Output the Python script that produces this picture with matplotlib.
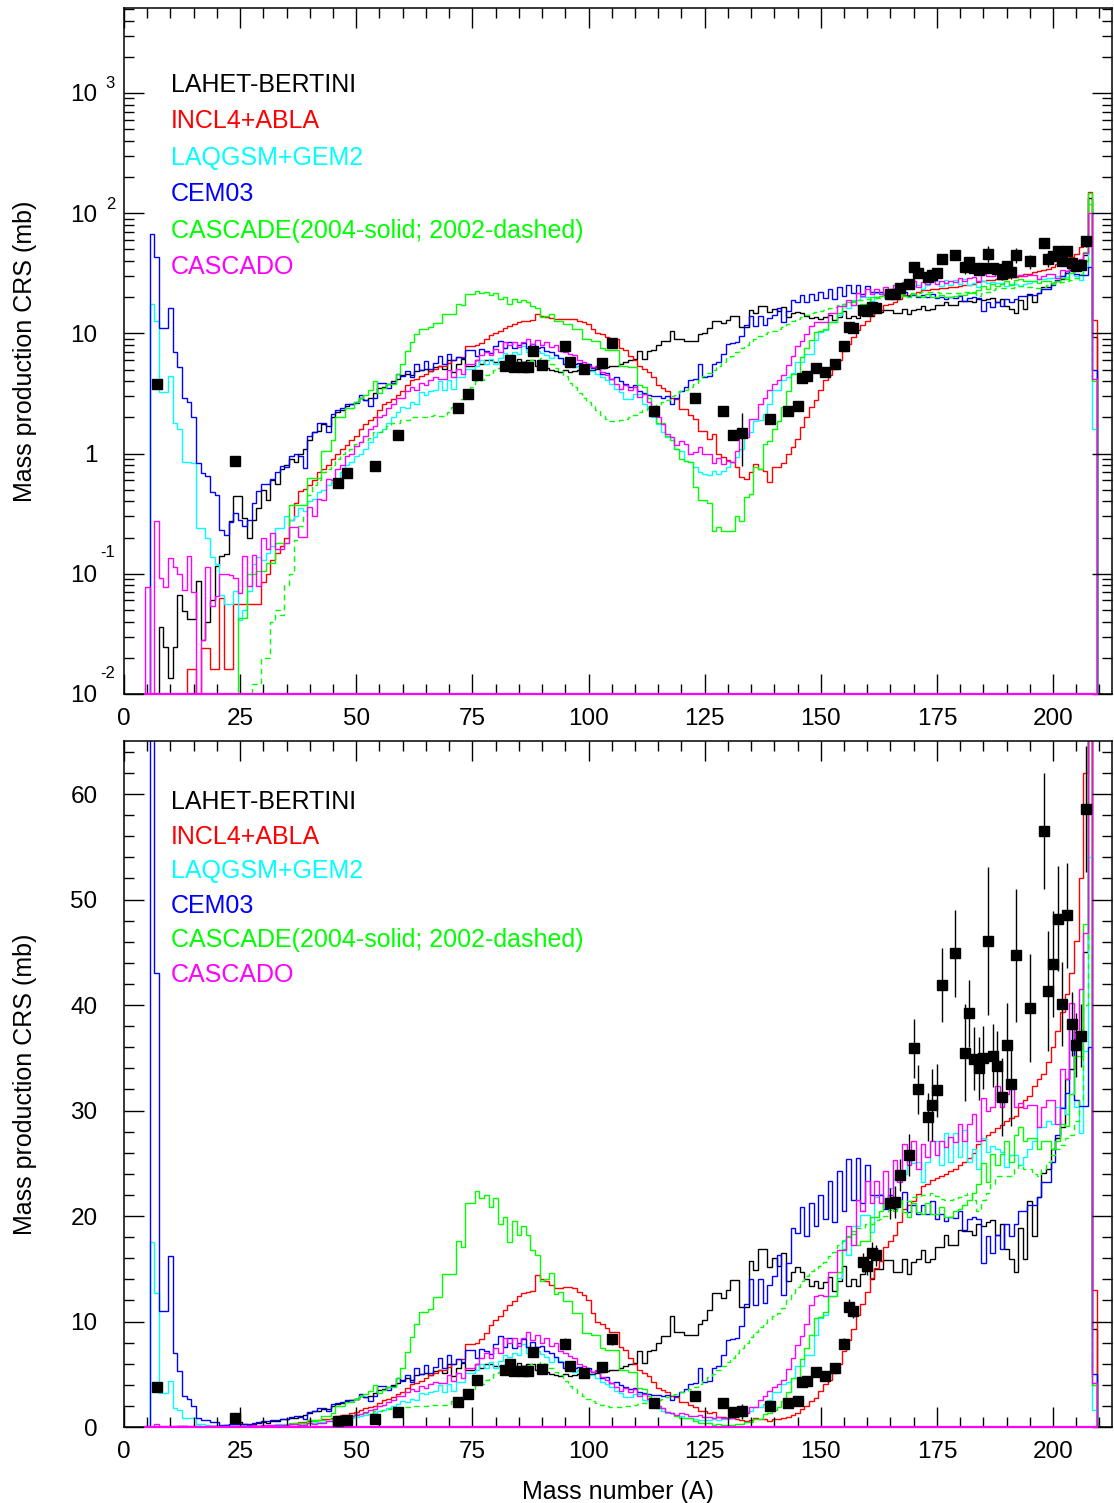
import numpy as np
import matplotlib
matplotlib.use('Agg')
import matplotlib.pyplot as plt
import matplotlib.transforms as mtransforms
from matplotlib.ticker import MultipleLocator, LogLocator, NullFormatter, FixedLocator

plt.rcParams['font.family'] = ['Liberation Sans', 'DejaVu Sans']

# Mass numbers A = 5 ... 210, one bin per A (edges at A-0.5, A+0.5)
masas = np.arange(5, 211)
bordes = np.arange(4.5, 211.5, 1.0)

# Mass production cross sections (mb), one value per A
lahet = [
    0, 0, 0, 0.036, 0.0245, 0.0137, 0.0245, 0.066, 0.049, 0.042,        # 5-14
    0.042, 0.087, 0.028, 0.04, 0.06, 0.117, 0.141, 0.145, 0.277, 0.447,  # 15-24
    0.44, 0.29, 0.197, 0.28, 0.35, 0.5, 0.41, 0.6, 0.56, 0.75,          # 25-34
    0.8, 0.9, 0.85, 1.0, 1.1, 1.3, 1.5, 1.55, 1.75, 1.7,                # 35-44
    2.0, 2.2, 2.3, 2.5, 2.6, 2.7, 2.9, 2.8, 2.9, 3.2,                   # 45-54
    3.5, 3.6, 3.8, 4.0, 4.2, 4.5, 4.6, 4.5, 4.9, 5.0,                   # 55-64
    5.1, 4.9, 5.3, 5.4, 5.1, 6.0, 4.8, 5.6, 6.1, 5.4,                   # 65-74
    5.4, 6.0, 5.6, 6.0, 6.0, 5.8, 5.8, 5.6, 5.4, 5.6,                   # 75-84
    6.1, 5.8, 6.0, 6.0, 5.4, 5.4, 5.2, 5.0, 4.9, 4.8,                   # 85-94
    5.0, 4.8, 4.9, 5.0, 4.8, 5.0, 5.0, 5.1, 5.2, 5.3,                   # 95-104
    5.4, 5.4, 5.6, 5.8, 6.0, 6.1, 7.2, 6.1, 7.2, 7.3,                   # 105-114
    8.0, 8.6, 8.6, 10.5, 9.0, 9.0, 8.7, 8.7, 8.7, 9.8,                  # 115-124
    10.1, 11.1, 12.7, 12.7, 12.2, 13.0, 13.9, 13.9, 11.4, 11.4,         # 125-134
    15.7, 14.9, 16.9, 16.9, 15.2, 16.0, 15.3, 16.5, 13.8, 14.7,         # 135-144
    15.2, 14.7, 14.0, 13.4, 13.8, 13.2, 13.7, 14.2, 12.9, 13.8,         # 145-154
    15.3, 13.4, 14.0, 13.4, 14.5, 15.3, 14.0, 15.0, 15.0, 15.8,         # 155-164
    15.8, 14.7, 14.7, 15.9, 14.5, 15.6, 15.9, 16.8, 15.6, 15.9,         # 165-174
    17.1, 17.1, 18.2, 17.3, 17.3, 18.7, 18.6, 18.6, 18.2, 19.2,         # 175-184
    19.1, 19.4, 19.6, 18.2, 19.2, 16.9, 15.9, 14.7, 18.9, 15.9,         # 185-194
    21.4, 18.1, 21.8, 24.1, 24.5, 26.4, 27.4, 28.4, 33.0, 33.9,         # 195-204
    37.4, 37.4, 45.0, 133.0, 9.3, 0,                                    # 205-210
]

incl4 = [
    0, 0, 0, 0, 0, 0, 0, 0, 0, 0.016,                                   # 5-14
    0.016, 0, 0.024, 0.024, 0.016, 0.016, 0.063, 0.016, 0.016, 0.056,   # 15-24
    0.056, 0.056, 0.056, 0.056, 0.056, 0.085, 0.1, 0.13, 0.15, 0.17,    # 25-34
    0.2, 0.28, 0.39, 0.49, 0.51, 0.55, 0.6, 0.7, 0.75, 0.8,             # 35-44
    0.9, 1.0, 1.1, 1.17, 1.3, 1.4, 1.6, 1.77, 1.9, 2.0,                 # 45-54
    2.3, 2.6, 2.7, 2.87, 3.1, 3.3, 3.7, 4.1, 4.2, 4.4,                  # 55-64
    4.6, 4.9, 5.1, 5.4, 5.4, 5.7, 6.0, 6.4, 6.4, 7.9,                   # 65-74
    7.9, 8.0, 8.3, 8.9, 9.7, 10.1, 10.5, 11.1, 11.6, 11.9,              # 75-84
    12.4, 12.7, 12.8, 12.9, 14.4, 14.0, 13.8, 13.5, 13.2, 13.2,         # 85-94
    13.3, 13.3, 13.2, 12.8, 12.5, 12.0, 10.8, 10.0, 9.8, 9.4,           # 95-104
    9.0, 9.0, 7.6, 7.3, 6.5, 6.0, 5.4, 5.1, 4.8, 4.3,                   # 105-114
    3.7, 3.5, 3.3, 2.9, 2.86, 2.35, 2.35, 2.1, 1.94, 1.55,              # 115-124
    1.55, 1.32, 1.46, 0.99, 0.94, 0.885, 0.85, 0.77, 0.635, 0.615,      # 125-134
    0.70, 0.82, 0.745, 0.72, 0.58, 0.77, 0.77, 0.83, 0.99, 1.13,        # 135-144
    1.32, 1.66, 2.0, 2.43, 2.77, 3.39, 4.06, 4.47, 5.08, 5.96,          # 145-154
    7.2, 8.2, 9.3, 10.6, 11.7, 12.8, 14.1, 15.1, 15.7, 17.1,            # 155-164
    17.6, 18.2, 19.4, 20.7, 21.0, 21.4, 22.1, 22.8, 23.0, 23.4,         # 165-174
    23.6, 23.8, 24.0, 24.3, 24.5, 24.8, 25.1, 25.5, 26.0, 26.8,         # 175-184
    27.2, 27.7, 28.0, 28.3, 28.6, 29.0, 29.3, 29.5, 30.3, 31.0,         # 185-194
    31.4, 32.3, 33.0, 33.5, 34.6, 36.0, 37.5, 39.3, 41.0, 43.0,         # 195-204
    46.1, 52.0, 62.0, 150.0, 13.0, 0,                                   # 205-210
]

laqgsm = [
    0, 17.5, 12.7, 3.25, 3.25, 4.4, 1.8, 1.6, 0.85, 0.85,               # 5-14
    0.83, 0.24, 0.24, 0.2, 0.137, 0.12, 0.066, 0.056, 0.056, 0.072,     # 15-24
    0.041, 0.05, 0.072, 0.12, 0.137, 0.13, 0.15, 0.17, 0.24, 0.24,      # 25-34
    0.3, 0.28, 0.3, 0.35, 0.33, 0.4, 0.42, 0.48, 0.5, 0.55,             # 35-44
    0.58, 0.62, 0.7, 0.8, 0.85, 0.95, 1.0, 1.1, 1.25, 1.37,             # 45-54
    1.5, 1.6, 1.8, 2.0, 2.2, 2.43, 2.4, 2.7, 2.6, 3.24,                 # 55-64
    3.1, 3.3, 3.4, 4.0, 3.35, 4.06, 3.46, 4.3, 4.3, 5.1,                # 65-74
    5.1, 5.4, 6.0, 5.6, 6.15, 5.6, 6.3, 6.85, 6.6, 7.0,                 # 75-84
    6.8, 7.9, 7.0, 7.0, 7.2, 6.9, 6.6, 6.2, 6.6, 6.3,                   # 85-94
    5.6, 5.6, 5.25, 5.4, 4.9, 4.9, 4.9, 4.6, 4.3, 4.06,                 # 95-104
    3.8, 3.46, 3.24, 2.86, 2.86, 3.14, 3.14, 2.6, 2.43, 2.0,            # 105-114
    1.77, 1.5, 1.37, 1.37, 1.09, 1.06, 0.87, 0.85, 0.77, 0.7,           # 115-124
    0.68, 0.66, 0.72, 0.68, 0.72, 0.77, 0.85, 0.93, 1.09, 1.46,         # 125-134
    1.5, 1.88, 1.9, 2.14, 2.6, 3.35, 3.35, 4.06, 4.3, 4.67,             # 135-144
    5.8, 5.8, 6.8, 6.8, 8.75, 10.3, 10.6, 12.4, 12.4, 14.1,             # 145-154
    17.7, 16.3, 19.1, 19.1, 20.1, 20.1, 18.5, 21.8, 22.1, 21.2,         # 155-164
    22.7, 23.5, 23.5, 24.0, 26.1, 25.0, 25.1, 23.2, 25.1, 27.1,         # 165-174
    27.1, 24.8, 27.9, 25.1, 27.9, 25.6, 28.2, 25.1, 26.4, 24.5,         # 175-184
    27.4, 26.1, 26.6, 26.4, 26.1, 24.6, 25.8, 25.8, 24.8, 25.6,         # 185-194
    26.4, 27.1, 28.4, 28.4, 29.0, 28.7, 30.3, 30.3, 29.7, 31.6,         # 195-204
    30.3, 27.9, 35.6, 54.0, 1.6, 0,                                     # 205-210
]

cem03 = [
    0, 67.0, 43.0, 11.0, 11.0, 16.2, 7.0, 5.3, 2.9, 2.7,                # 5-14
    2.0, 0.83, 0.69, 0.65, 0.48, 0.45, 0.23, 0.21, 0.27, 0.32,          # 15-24
    0.28, 0.25, 0.28, 0.39, 0.49, 0.56, 0.56, 0.62, 0.7, 0.79,          # 25-34
    0.77, 0.96, 1.0, 0.96, 0.76, 1.41, 1.5, 1.78, 1.78, 1.5,            # 35-44
    2.15, 2.3, 2.4, 2.6, 2.6, 2.65, 3.1, 2.8, 2.5, 2.9,                 # 45-54
    3.85, 3.9, 3.5, 3.9, 4.6, 4.4, 4.9, 4.3, 5.6, 5.0,                  # 55-64
    5.9, 5.1, 5.7, 6.5, 5.6, 6.8, 6.0, 6.4, 6.2, 7.3,                   # 65-74
    7.3, 6.5, 7.4, 7.2, 6.9, 7.9, 8.6, 7.6, 8.4, 7.5,                   # 75-84
    8.0, 8.3, 7.6, 8.1, 7.6, 7.7, 7.2, 7.0, 6.6, 6.2,                   # 85-94
    5.6, 5.9, 5.6, 5.7, 5.4, 5.6, 5.2, 5.3, 4.6, 4.7,                   # 95-104
    4.2, 4.3, 4.0, 3.8, 3.6, 3.7, 3.3, 3.2, 3.1, 3.0,                   # 105-114
    3.0, 2.9, 3.0, 2.6, 2.9, 3.3, 3.6, 4.1, 4.2, 5.6,                   # 115-124
    4.3, 4.4, 5.6, 5.8, 6.8, 8.2, 8.3, 8.4, 9.6, 11.7,                  # 125-134
    14.0, 11.6, 14.0, 11.8, 13.5, 14.3, 16.3, 12.5, 15.5, 18.9,         # 135-144
    18.4, 20.9, 18.1, 21.2, 19.1, 22.0, 19.7, 23.3, 19.4, 24.3,         # 145-154
    20.5, 25.4, 21.5, 25.5, 21.2, 24.8, 22.0, 22.0, 22.0, 20.7,         # 155-164
    22.0, 20.7, 21.5, 22.3, 20.4, 21.0, 20.2, 21.0, 20.2, 21.4,         # 165-174
    19.7, 20.2, 19.5, 19.9, 19.8, 20.5, 18.7, 19.7, 19.9, 19.7,         # 175-184
    15.5, 18.1, 16.5, 18.2, 16.9, 19.2, 18.1, 19.2, 20.5, 20.5,         # 185-194
    21.0, 21.0, 21.8, 23.2, 23.2, 25.1, 27.7, 30.2, 31.7, 38.0,         # 195-204
    31.0, 30.4, 30.4, 36.0, 5.0, 0,                                     # 205-210
]

cascade04 = [
    0, 0, 0, 0, 0, 0, 0, 0, 0, 0,                                       # 5-14
    0, 0, 0, 0, 0, 0, 0, 0, 0, 0,                                       # 15-24
    0.043, 0.043, 0.1, 0.1, 0.105, 0.106, 0.124, 0.124, 0.18, 0.18,     # 25-34
    0.18, 0.37, 0.37, 0.37, 0.37, 0.63, 0.63, 0.63, 1.06, 1.06,         # 35-44
    1.3, 2.0, 2.0, 2.4, 2.4, 2.7, 2.9, 3.1, 3.4, 4.0,                   # 45-54
    3.2, 3.5, 3.8, 3.8, 4.6, 5.6, 7.1, 8.5, 9.8, 10.9,                  # 55-64
    10.9, 11.2, 12.3, 12.3, 14.5, 14.5, 14.5, 17.6, 17.1, 21.2,         # 65-74
    21.2, 22.4, 21.7, 22.0, 20.9, 21.7, 19.2, 19.9, 17.5, 19.5,         # 75-84
    18.2, 19.1, 18.2, 16.8, 16.3, 13.8, 14.0, 14.6, 12.6, 12.8,         # 85-94
    11.9, 11.9, 10.8, 10.8, 8.9, 8.9, 8.7, 8.7, 7.5, 7.3,               # 95-104
    7.3, 7.3, 5.4, 5.4, 5.25, 5.25, 3.7, 3.6, 2.9, 2.2,                 # 105-114
    1.8, 1.8, 1.41, 1.3, 1.09, 0.9, 0.875, 0.85, 0.524, 0.41,           # 115-124
    0.41, 0.39, 0.228, 0.243, 0.228, 0.228, 0.228, 0.304, 0.276, 0.432, # 125-134
    0.46, 0.77, 0.745, 1.2, 1.28, 1.6, 1.88, 2.43, 3.3, 4.6,            # 135-144
    4.6, 6.4, 7.5, 8.75, 10.3, 10.4, 10.9, 12.4, 12.4, 14.7,            # 145-154
    16.9, 18.1, 18.6, 17.3, 17.6, 17.6, 19.9, 19.9, 20.5, 21.2,         # 155-164
    21.5, 20.5, 21.5, 20.4, 19.9, 21.2, 20.4, 20.2, 21.2, 20.2,         # 165-174
    20.2, 20.9, 19.9, 19.9, 20.5, 20.7, 21.0, 21.5, 22.2, 23.0,         # 175-184
    25.0, 23.2, 25.9, 24.8, 25.9, 27.1, 25.1, 27.7, 28.4, 27.1,         # 185-194
    27.4, 27.4, 26.4, 27.1, 27.1, 26.4, 27.1, 28.7, 28.5, 31.6,         # 195-204
    35.2, 35.2, 47.7, 147.0, 4.0, 0,                                    # 205-210
]

cascade02 = [
    0, 0, 0, 0, 0, 0, 0, 0, 0, 0,                                       # 5-14
    0, 0, 0, 0, 0, 0, 0, 0, 0, 0,                                       # 15-24
    0, 0, 0, 0.012, 0.012, 0.02, 0.02, 0.04, 0.05, 0.045,               # 25-34
    0.08, 0.1, 0.19, 0.25, 0.3, 0.45, 0.55, 0.6, 0.7, 0.75,             # 35-44
    0.8, 0.9, 1.0, 1.05, 1.1, 1.2, 1.25, 1.3, 1.35, 1.5,                # 45-54
    1.5, 1.6, 1.7, 1.8, 1.8, 1.9, 1.9, 2.0, 2.0, 2.0,                   # 55-64
    2.0, 2.05, 2.1, 2.07, 2.07, 2.2, 2.43, 2.6, 2.86, 3.35,             # 65-74
    3.6, 4.0, 4.06, 4.5, 4.6, 5.0, 5.2, 5.3, 5.4, 5.5,                  # 75-84
    5.6, 5.7, 5.8, 6.0, 6.0, 6.2, 6.0, 5.6, 5.2, 4.9,                   # 85-94
    4.4, 3.9, 3.6, 3.2, 2.9, 2.7, 2.5, 2.3, 2.1, 1.95,                  # 95-104
    1.85, 1.85, 1.9, 1.95, 2.0, 2.1, 2.2, 2.3, 2.4, 2.5,                # 105-114
    2.6, 2.7, 2.8, 3.0, 3.1, 3.3, 3.4, 3.6, 3.8, 4.1,                   # 115-124
    4.4, 4.7, 5.0, 5.4, 5.8, 6.2, 6.5, 7.0, 7.5, 8.0,                   # 125-134
    8.5, 9.0, 9.5, 9.9, 10.2, 10.5, 10.8, 11.3, 12.0, 12.7,             # 135-144
    13.3, 13.8, 14.3, 14.8, 15.1, 15.3, 15.6, 16.2, 16.6, 17.3,         # 145-154
    17.6, 18.0, 18.3, 18.9, 18.9, 19.2, 19.2, 19.6, 19.7, 20.0,         # 155-164
    20.6, 21.2, 21.2, 21.4, 21.4, 21.8, 21.8, 22.0, 22.0, 22.2,         # 165-174
    21.9, 21.6, 21.5, 21.5, 21.6, 21.8, 22.0, 22.2, 21.5, 20.5,         # 175-184
    21.5, 22.2, 23.0, 23.8, 23.8, 23.8, 23.8, 24.5, 24.8, 24.5,         # 185-194
    24.5, 24.0, 23.8, 24.5, 25.1, 25.8, 26.4, 26.7, 27.4, 27.7,         # 195-204
    29.0, 31.0, 40.0, 120.0, 4.0, 0,                                    # 205-210
]

cascado = [
    0.077, 0, 0.277, 0.093, 0.077, 0.135, 0.113, 0.1, 0.073, 0.14,      # 5-14
    0.07, 0, 0.028, 0.114, 0.054, 0.065, 0.1, 0.1, 0.097, 0.092,        # 15-24
    0.069, 0.14, 0.079, 0.143, 0.079, 0.2, 0.16, 0.22, 0.16, 0.16,      # 25-34
    0.18, 0.244, 0.244, 0.204, 0.204, 0.357, 0.3, 0.42, 0.41, 0.615,    # 35-44
    0.6, 0.75, 0.8, 0.95, 1.0, 1.15, 1.25, 1.4, 1.6, 1.7,               # 45-54
    2.0, 2.1, 2.4, 2.6, 2.9, 2.9, 3.3, 3.6, 3.4, 3.9,                   # 55-64
    3.7, 4.1, 4.3, 4.2, 4.2, 4.92, 4.33, 5.08, 4.6, 5.6,                # 65-74
    5.6, 5.95, 6.55, 6.99, 6.55, 7.45, 6.99, 8.47, 7.94, 8.47,          # 75-84
    7.7, 8.47, 9.0, 8.2, 8.75, 7.94, 8.47, 7.7, 7.94, 7.2,              # 85-94
    6.99, 6.76, 6.55, 5.95, 5.77, 5.4, 5.24, 5.4, 4.77, 4.47,           # 95-104
    4.2, 3.8, 3.46, 3.69, 3.35, 3.57, 2.94, 3.14, 2.68, 2.21,           # 105-114
    2.0, 1.77, 1.46, 1.37, 1.17, 1.28, 1.2, 1.0, 1.03, 1.13,            # 115-124
    0.99, 0.99, 0.83, 0.92, 0.82, 0.87, 0.85, 1.06, 1.46, 1.37,         # 125-134
    1.94, 1.94, 2.6, 2.9, 3.4, 3.8, 4.06, 4.47, 5.5, 6.5,               # 135-144
    7.8, 8.6, 9.8, 11.6, 12.4, 12.5, 12.4, 14.7, 14.7, 16.8,            # 145-154
    16.8, 19.1, 17.3, 21.5, 20.5, 23.3, 21.2, 23.3, 21.2, 24.3,         # 155-164
    21.5, 25.3, 23.2, 26.8, 24.8, 27.1, 24.5, 26.8, 25.6, 27.1,         # 165-174
    25.8, 27.1, 26.5, 27.5, 27.0, 28.7, 27.1, 28.7, 29.7, 27.1,         # 175-184
    31.2, 30.0, 30.3, 32.3, 30.3, 31.6, 32.6, 30.3, 30.7, 30.2,         # 185-194
    30.5, 30.5, 28.4, 30.3, 31.0, 31.0, 28.7, 33.9, 33.0, 40.2,         # 195-204
    36.9, 41.5, 46.8, 100.0, 4.2, 0,                                    # 205-210
]

# Experimental points (mb) with their errors
exp_a = [7, 24, 46, 48, 54, 59, 72, 74, 76, 82,
         83, 84, 86, 87, 88, 90, 95, 96, 99, 103,
         105, 114, 123, 129, 131, 133, 139, 143, 145, 146,
         147, 149, 151, 153, 155, 156, 157, 159, 160, 161,
         162, 165, 166, 167, 169, 170, 171, 173, 174, 175,
         176, 179, 181, 182, 183, 184, 185, 186, 187, 188,
         189, 190, 191, 192, 195, 198, 199, 200, 201, 202,
         203, 204, 205, 206, 207]
exp_v = [3.76, 0.86, 0.57, 0.69, 0.79, 1.44, 2.39, 3.14, 4.47, 5.4,
         5.95, 5.3, 5.3, 5.3, 7.1, 5.5, 7.9, 5.8, 5.1, 5.7,
         8.3, 2.25, 2.9, 2.24, 1.43, 1.49, 1.95, 2.28, 2.5, 4.27,
         4.4, 5.2, 4.8, 5.6, 7.9, 11.4, 11.0, 15.6, 15.3, 16.5,
         16.3, 21.2, 21.3, 23.9, 25.8, 35.9, 32.0, 29.4, 30.5, 31.9,
         41.9, 44.9, 35.5, 39.2, 34.9, 34.0, 35.0, 46.1, 35.2, 34.2,
         31.3, 36.2, 32.5, 44.7, 39.7, 56.5, 41.3, 43.9, 48.2, 40.1,
         48.5, 38.2, 36.2, 37.1, 58.6]
exp_err = [0.3, 0.06, 0.04, 0.05, 0.05, 0.1, 0.15, 0.2, 0.25, 0.3,
           0.3, 0.3, 0.3, 0.3, 0.4, 0.3, 0.5, 0.3, 0.3, 0.3,
           0.5, 0.15, 0.2, 0.15, 0.1, 0.7, 0.15, 0.15, 0.2, 0.3,
           0.3, 0.3, 0.3, 0.3, 0.5, 0.7, 0.7, 0.9, 0.9, 1.0,
           1.0, 1.5, 1.5, 1.5, 2.0, 2.8, 2.3, 2.3, 3.4, 2.5,
           3.5, 4.1, 4.6, 3.2, 3.0, 3.0, 3.0, 7.0, 3.0, 3.3,
           3.7, 4.0, 4.0, 6.3, 5.1, 5.5, 5.7, 5.0, 5.0, 4.0,
           5.0, 3.0, 3.0, 3.0, 6.0]

ROJO = '#ff0000'
CIAN = '#00ffff'
AZUL = '#0000ff'
VERDE = '#00ff00'
MAGENTA = '#ff00ff'

# (values, colour, line style) in drawing order
series = [
    (lahet, 'black', '-'),
    (incl4, ROJO, '-'),
    (laqgsm, CIAN, '-'),
    (cem03, AZUL, '-'),
    (cascade04, VERDE, '-'),
    (cascade02, VERDE, (0, (4, 3))),
    (cascado, MAGENTA, '-'),
]

leyenda = [
    ('LAHET-BERTINI', 'black'),
    ('INCL4+ABLA', ROJO),
    ('LAQGSM+GEM2', CIAN),
    ('CEM03', AZUL),
    ('CASCADE(2004-solid; 2002-dashed)', VERDE),
    ('CASCADO', MAGENTA),
]


def dibujar(ax, piso):
    """Draws the model histograms, the zero line and the data points."""
    for valores, color, estilo in series:
        v = np.clip(np.array(valores, dtype=float), piso, None)
        ax.stairs(v, bordes, baseline=piso, color=color, lw=1.0, linestyle=estilo)
    ax.plot([4.5, 209.5], [piso, piso], color=MAGENTA, lw=1.6, clip_on=False, zorder=3)
    ax.errorbar(exp_a, exp_v, yerr=exp_err, fmt='s', color='black', ms=7.5,
                elinewidth=1.0, capsize=0, zorder=5)


def ejes_comunes(ax):
    ax.set_xlim(0, 212.7)
    ax.xaxis.set_major_locator(MultipleLocator(25))
    ax.xaxis.set_minor_locator(MultipleLocator(5))
    ax.tick_params(which='both', direction='in', top=True, right=True, width=1.0)
    ax.tick_params(which='major', length=14.4, labelsize=17.5)
    ax.tick_params(which='minor', length=7.2)
    ax.tick_params(axis='x', pad=10)
    ax.tick_params(axis='y', pad=19)
    for s in ax.spines.values():
        s.set_linewidth(1.1)
    ax.set_ylabel('Mass production CRS (mb)', fontsize=18)
    ax.yaxis.set_label_coords(-0.088, 0.5)


fig = plt.figure(figsize=(11.14, 15.03), dpi=100)
ax_log = fig.add_axes([124 / 1114, 1 - 694 / 1503, 988 / 1114, 686 / 1503])
ax_lin = fig.add_axes([124 / 1114, 1 - 1427 / 1503, 988 / 1114, 686 / 1503])

# --- top panel: logarithmic ---
ax_log.set_yscale('log')
ax_log.set_ylim(0.01, 5094)
dibujar(ax_log, 0.01)
ejes_comunes(ax_log)
ax_log.yaxis.set_major_locator(FixedLocator([0.01, 0.1, 1, 10, 100, 1000]))
ax_log.yaxis.set_minor_locator(LogLocator(base=10, subs=np.arange(2, 10)))
ax_log.yaxis.set_minor_formatter(NullFormatter())
ax_log.set_yticklabels(['10', '10', '1', '10', '10', '10'])

mezcla = mtransforms.blended_transform_factory(ax_log.transAxes, ax_log.transData)
for valor, exponente, subida in [(1000, '3', 6.5), (100, '2', 6.5), (0.1, '-1', 15), (0.01, '-2', 15)]:
    t = mtransforms.offset_copy(mezcla, fig=fig, x=0, y=subida, units='points')
    ax_log.text(-0.0091, valor, exponente, transform=t, ha='right', va='center', fontsize=12)

for i, (texto, color) in enumerate(leyenda):
    ax_log.text(0.0476, 0.888 - i * 0.0532, texto, color=color, fontsize=18,
                va='center', transform=ax_log.transAxes)

# --- bottom panel: linear ---
ax_lin.set_ylim(0, 65.03)
dibujar(ax_lin, 0.0)
ejes_comunes(ax_lin)
ax_lin.yaxis.set_major_locator(MultipleLocator(10))
ax_lin.yaxis.set_minor_locator(MultipleLocator(2))
ax_lin.set_xlabel('Mass number (A)', fontsize=18, labelpad=12)

for i, (texto, color) in enumerate(leyenda):
    ax_lin.text(0.0476, 0.911 - i * 0.0503, texto, color=color, fontsize=18,
                va='center', transform=ax_lin.transAxes)

fig.savefig('out.png', dpi=100)
